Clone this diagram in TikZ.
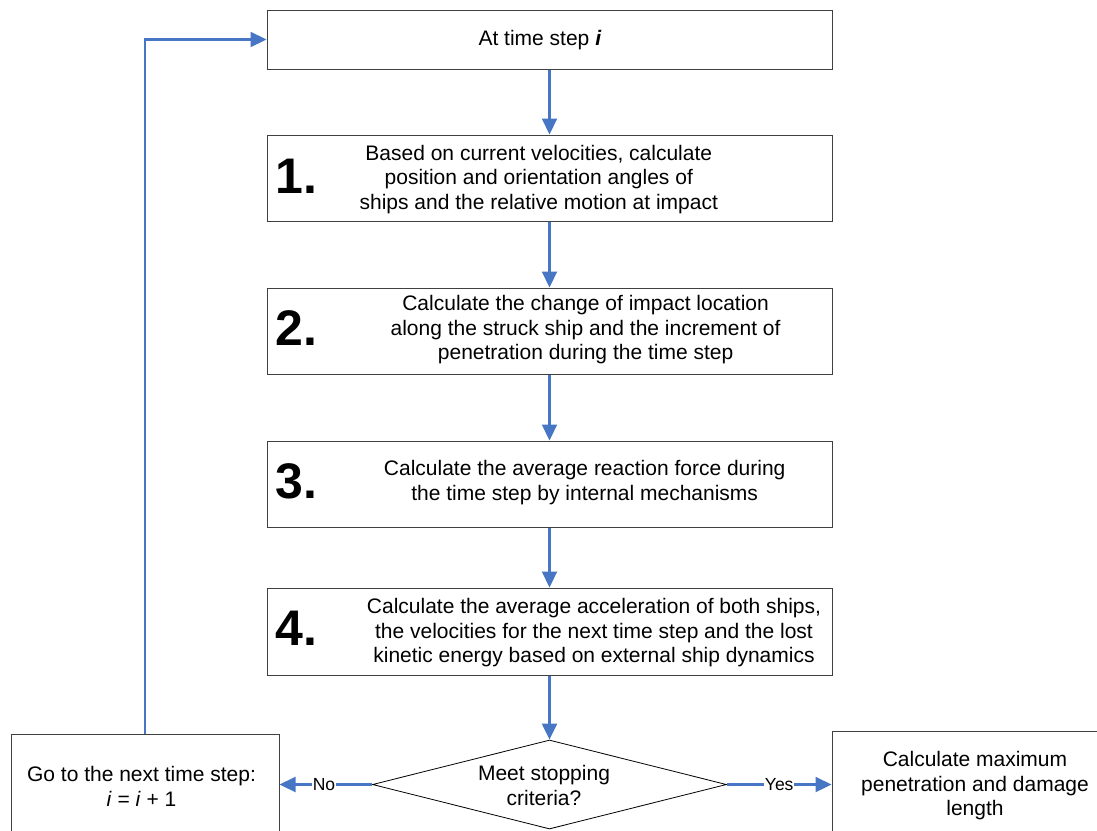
\documentclass[tikz,border=0pt]{standalone}
\usepackage{fontspec}
\setmainfont{Liberation Sans}
\usetikzlibrary{arrows.meta,shapes.geometric,calc}

\definecolor{flowblue}{RGB}{70,118,196}
\definecolor{boxgray}{RGB}{64,64,64}

\tikzset{
  stepbox/.style={draw=boxgray, line width=1pt, rectangle, inner sep=0pt,
    minimum width=565pt, minimum height=86pt},
  sidebox/.style={draw=boxgray, line width=1pt, rectangle, inner sep=0pt},
  decision/.style={draw=black, line width=0.8pt, diamond, inner sep=0pt,
    minimum width=354pt, minimum height=89pt},
  bodytext/.style={align=center, inner sep=0pt,
    font=\fontsize{21}{24.5}\selectfont},
  stepnum/.style={anchor=base west, inner sep=0pt,
    font=\fontsize{50}{50}\selectfont\bfseries},
  flow/.style={draw=flowblue, line width=2.2pt,
    -{Triangle[length=16pt,width=15pt]}},
  answer/.style={fill=white, inner sep=1pt, font=\fontsize{17.5}{20}\selectfont}
}

\begin{document}
\begin{tikzpicture}[x=1pt,y=-1pt]
\useasboundingbox (0,0) rectangle (1097,830);
\clip (0,0) rectangle (1097,830);

% main column of process boxes
\node[stepbox, minimum height=59pt] (top) at (549.5,39.5) {};
\node[stepbox] (b1) at (549.5,178) {};
\node[stepbox] (b2) at (549.5,331) {};
\node[stepbox] (b3) at (549.5,484) {};
\node[stepbox, minimum height=87pt] (b4) at (549.5,631.5) {};
\node[decision] (dec) at (549.5,784.5) {};

% side boxes at the bottom (running past the page edge)
\node[sidebox, minimum width=268pt, minimum height=116pt] (next) at (145,792) {};
\node[sidebox, minimum width=288pt, minimum height=119pt] (final) at (976,790.5) {};

% box texts
\node[bodytext] (ttop) at (540,40.5) {At time step \textbf{\textit{i}}};
\node[bodytext] (t1) at (538.8,179.5) {Based on current velocities, calculate\\
  position and orientation angles of\\ ships and the relative motion at impact};
\node[bodytext] (t2) at (585.6,330) {Calculate the change of impact location\\
  along the struck ship and the increment of\\ penetration during the time step};
\node[bodytext] (t3) at (584.7,482.5) {Calculate the average reaction force during\\
  the time step by internal mechanisms};
\node[bodytext] (t4) at (594,633) {Calculate the average acceleration of both ships,\\
  the velocities for the next time step and the lost\\ kinetic energy based on external ship dynamics};
\node[bodytext] (tdec) at (544,785.5) {Meet stopping\\ criteria?};
\node[bodytext] (tnext) at (141.5,786.4) {Go to the next time step:\\ \textit{i} = \textit{i} + 1};
\node[bodytext] (tfinal) at (975,786) {Calculate maximum\\ penetration and damage\\ length};

% step numbers
\node[stepnum] (n1) at ($(b1.center)+(-274,15)$) {1.};
\node[stepnum] (n2) at ($(b2.center)+(-274,14.5)$) {2.};
\node[stepnum] (n3) at ($(b3.center)+(-274,14.5)$) {3.};
\node[stepnum] (n4) at ($(b4.center)+(-274,14)$) {4.};

% connectors
\draw[flow] (top) -- (b1);
\draw[flow] (b1) -- (b2);
\draw[flow] (b2) -- (b3);
\draw[flow] (b3) -- (b4);
\draw[flow] (b4) -- (dec);
\draw[flow] (dec.west) -- node[answer, pos=0.52] {No} (dec.west -| next.east);
\draw[flow] (dec.east) -- node[answer, pos=0.5] {Yes} (dec.east -| final.west);
\draw[flow] (next.north) |- (top.west);
\end{tikzpicture}
\end{document}
